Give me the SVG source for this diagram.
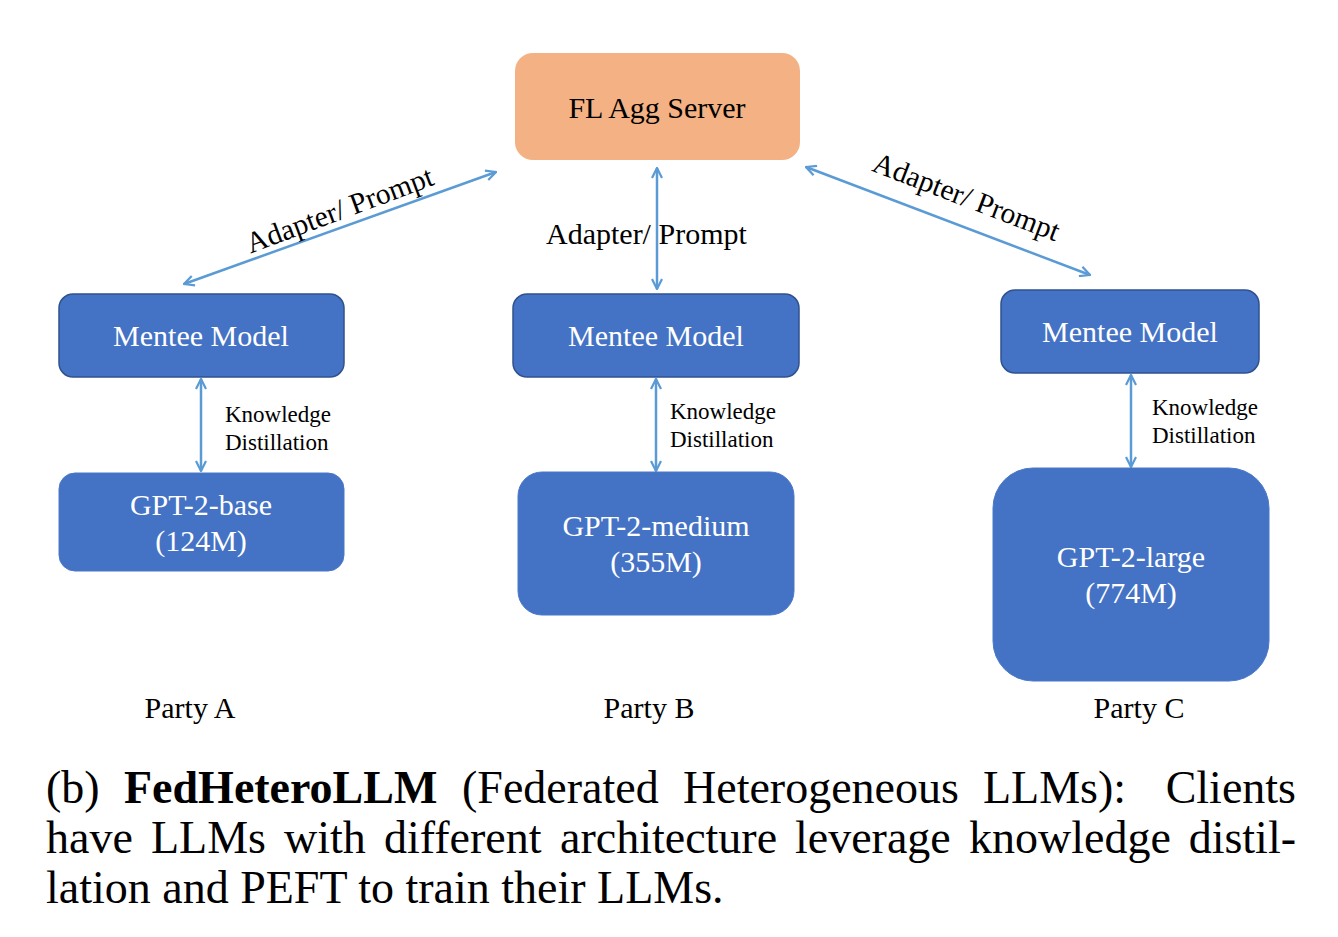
<svg xmlns="http://www.w3.org/2000/svg" width="1338" height="937" viewBox="0 0 1338 937">
<style>
text{font-family:"Liberation Serif","Times New Roman",serif;}
.lbl{font-size:30px;fill:#000;}
.node{font-size:30px;fill:#fff;text-anchor:middle;}
.kd{font-size:23px;fill:#000;}
.party{font-size:30px;fill:#000;text-anchor:middle;}
.cap{font-size:46px;fill:#000;}
.mentee{fill:#4472C4;stroke:#2F528F;stroke-width:1.5;}
.gpt{fill:#4472C4;stroke:#4A78C8;stroke-width:1;}
.conn{stroke:#5B9BD5;stroke-width:2.5;fill:none;marker-start:url(#ah);marker-end:url(#ah);}
</style>
<defs>
<marker id="ah" viewBox="0 0 12 12" refX="11" refY="6" markerWidth="12" markerHeight="12" markerUnits="userSpaceOnUse" orient="auto-start-reverse">
<path d="M1,1 L11,6 L1,11" fill="none" stroke="#5B9BD5" stroke-width="2.2"/>
</marker>
</defs>
<rect width="1338" height="937" fill="#fff"/>

<g id="server">
<rect x="515" y="53" width="285" height="107" rx="18" fill="#F4B183"/>
<text class="node" x="657" y="118" style="fill:#000">FL Agg Server</text>
</g>

<g id="connectors">
<line class="conn" x1="184" y1="284" x2="496" y2="172"/>
<line class="conn" x1="657" y1="168" x2="657" y2="289"/>
<line class="conn" x1="806" y1="167" x2="1090" y2="275"/>
<line class="conn" x1="201" y1="379" x2="201" y2="471"/>
<line class="conn" x1="656" y1="379" x2="656" y2="471"/>
<line class="conn" x1="1131" y1="375" x2="1131" y2="467"/>
</g>

<g id="labels">
<text class="lbl" text-anchor="middle" transform="translate(343,219) rotate(-20.5)" style="font-size:29.5px">Adapter/ Prompt</text>
<text class="lbl" x="546" y="244">Adapter/ Prompt</text>
<text class="lbl" text-anchor="middle" transform="translate(963,206) rotate(21)" style="font-size:29.5px">Adapter/ Prompt</text>
<text class="kd" x="225" y="422">Knowledge</text>
<text class="kd" x="225" y="450">Distillation</text>
<text class="kd" x="670" y="419">Knowledge</text>
<text class="kd" x="670" y="447">Distillation</text>
<text class="kd" x="1152" y="415">Knowledge</text>
<text class="kd" x="1152" y="443">Distillation</text>
</g>

<g id="menteeA">
<rect class="mentee" x="59" y="294" width="285" height="83" rx="14"/>
<text class="node" x="201" y="346">Mentee Model</text>
</g>
<g id="gptA">
<rect class="gpt" x="59" y="473" width="285" height="98" rx="16"/>
<text class="node" x="201" y="515">GPT-2-base</text>
<text class="node" x="201" y="551">(124M)</text>
</g>

<g id="menteeB">
<rect class="mentee" x="513" y="294" width="286" height="83" rx="14"/>
<text class="node" x="656" y="346">Mentee Model</text>
</g>
<g id="gptB">
<rect class="gpt" x="518" y="472" width="276" height="143" rx="24"/>
<text class="node" x="656" y="536">GPT-2-medium</text>
<text class="node" x="656" y="572">(355M)</text>
</g>

<g id="menteeC">
<rect class="mentee" x="1001" y="290" width="258" height="83" rx="14"/>
<text class="node" x="1130" y="342">Mentee Model</text>
</g>
<g id="gptC">
<rect class="gpt" x="993" y="468" width="276" height="213" rx="40"/>
<text class="node" x="1131" y="567">GPT-2-large</text>
<text class="node" x="1131" y="603">(774M)</text>
</g>

<g id="parties">
<text class="party" x="190" y="718">Party A</text>
<text class="party" x="649" y="718">Party B</text>
<text class="party" x="1139" y="718">Party C</text>
</g>

<g id="caption">
<text class="cap" y="803"><tspan x="46">(b)</tspan><tspan x="124" font-weight="bold">FedHeteroLLM</tspan><tspan x="462">(Federated</tspan><tspan x="683">Heterogeneous</tspan><tspan x="983">LLMs):</tspan></text>
<text class="cap" x="1296" y="803" text-anchor="end">Clients</text>
<text class="cap" y="853"><tspan x="46">have</tspan><tspan x="151">LLMs</tspan><tspan x="284">with</tspan><tspan x="384">different</tspan><tspan x="560">architecture</tspan><tspan x="795">leverage</tspan><tspan x="969">knowledge</tspan></text>
<text class="cap" x="1296" y="853" text-anchor="end">distil-</text>
<text class="cap" x="46" y="903">lation and PEFT to train their LLMs.</text>
</g>
</svg>
